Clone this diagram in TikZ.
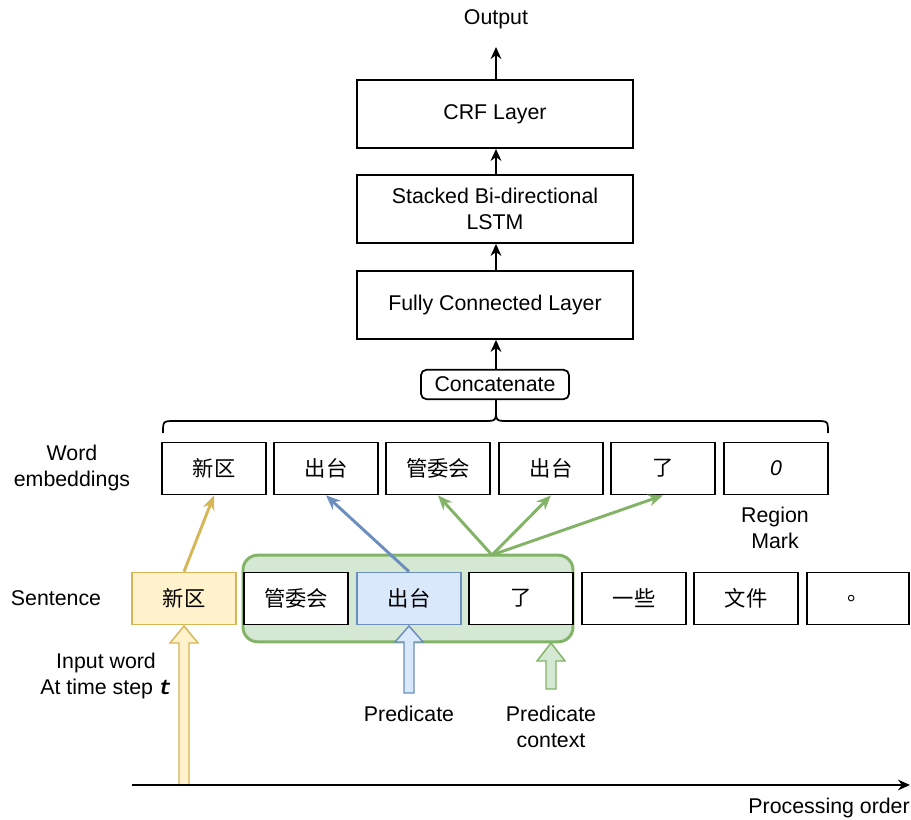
\documentclass[tikz,border=0pt]{standalone}
\usepackage{fontspec}
\setmainfont{Liberation Sans}
\newfontfamily\cjk{Noto Sans CJK SC}
\newfontfamily\monob{Liberation Mono}
\usetikzlibrary{arrows.meta}
\definecolor{ylwfill}{HTML}{FFF2CC}
\definecolor{ylwline}{HTML}{D6B656}
\definecolor{blufill}{HTML}{DAE8FC}
\definecolor{bluline}{HTML}{6C8EBF}
\definecolor{grnfill}{HTML}{D5E8D4}
\definecolor{grnline}{HTML}{82B366}
\begin{document}
\begin{tikzpicture}[x=0.75pt,y=-0.75pt,
  font=\fontsize{16}{19.5}\selectfont,
  wordbox/.style={draw=black, line width=1.3pt, fill=white, minimum width=78pt,
    minimum height=39pt, inner sep=0pt, font=\fontsize{16}{19.5}\selectfont\cjk},
  layerbox/.style={draw=black, line width=1.3pt, fill=white, minimum width=207pt,
    minimum height=51pt, inner sep=0pt, align=center},
  lbl/.style={align=center, inner sep=0pt},
  blk/.style={-{Stealth[length=9pt,width=8pt]}, line width=1.4pt},
  colarr/.style={-{Stealth[length=11pt,width=9pt]}, line width=2.2pt},
  blockarr/.style={line width=1.1pt, line join=miter}
]
\useasboundingbox (0,0) rectangle (911,820);

% ---- upper network layers ----
\node[lbl] (out) at (496,19) {Output};
\coordinate (outend) at (496,47);
\node[layerbox] (crf) at (495,114) {CRF Layer};
\node[layerbox] (lstm) at (495,209) {Stacked Bi-directional\\LSTM};
\node[layerbox] (fc) at (495,305) {Fully Connected Layer};
\node[draw=black, line width=1.3pt, rounded corners=4pt, minimum width=111pt,
  minimum height=22pt, inner sep=0pt] (cat) at (495,384.5) {Concatenate};

\draw[blk] (496,80) -- (outend);
\draw[blk] (lstm.north -| 496,0) -- (crf.south -| 496,0);
\draw[blk] (fc.north -| 496,0) -- (lstm.south -| 496,0);
\draw[blk] (cat.north -| 496,0) -- (fc.south -| 496,0);

% ---- brace gathering the word embeddings ----
\coordinate (tip) at (496,409);
\draw[line width=1.3pt] (163,433) .. controls (163,421) .. (175,421) -- (484,421)
  .. controls (496,421) .. (tip) .. controls (496,421) .. (508,421) -- (816,421)
  .. controls (828,421) .. (828,433);
\draw[line width=1.3pt] (tip) -- (cat.south -| 496,0);

% ---- word embeddings ----
\node[lbl] (welbl) at (72,468) {Word\\embeddings};
\node[wordbox] (e1) at (214,468.5) {新区};
\node[wordbox] (e2) at (326,468.5) {出台};
\node[wordbox] (e3) at (438,468.5) {管委会};
\node[wordbox] (e4) at (551,468.5) {出台};
\node[wordbox] (e5) at (663,468.5) {了};
\node[wordbox, font=\fontsize{16}{19.5}\selectfont\itshape] (e6) at (776,468.5) {0};
\node[lbl] (rm) at (775,528) {Region\\Mark};

% ---- sentence ----
\node[lbl] (sentlbl) at (56,598) {Sentence};
\node[draw=grnline, fill=grnfill, line width=2.2pt, rounded corners=11pt,
  minimum width=247.5pt, minimum height=65pt, inner sep=0pt] (ctx) at (408,598.5) {};
\node[wordbox, draw=ylwline, fill=ylwfill] (s1) at (184,598.5) {新区};
\node[wordbox] (s2) at (296,598.5) {管委会};
\node[wordbox, draw=bluline, fill=blufill] (s3) at (409,598.5) {出台};
\node[wordbox] (s4) at (521,598.5) {了};
\node[wordbox] (s5) at (634,598.5) {一些};
\node[wordbox] (s6) at (746,598.5) {文件};
\node[wordbox, minimum width=76.5pt] (s7) at (858,598.5) {。};
\coordinate (fan) at (492,555);

% ---- feature connectors ----
\draw[colarr, draw=ylwline] (s1.north) -- (e1.south);
\draw[colarr, draw=bluline] (s3.north) -- (e2.south);
\draw[colarr, draw=grnline] (fan) -- (e3.south);
\draw[colarr, draw=grnline] (fan) -- (e4.south);
\draw[colarr, draw=grnline] (fan) -- (e5.south);

% ---- hollow block arrows ----
\draw[blockarr, draw=ylwline, fill=ylwfill] (179,785) -- (179,643) -- (170,643)
  -- (184,626) -- (198,643) -- (189,643) -- (189,785) -- cycle;
\draw[blockarr, draw=bluline, fill=blufill] (404,693) -- (404,642) -- (395,642)
  -- (409,626) -- (423,642) -- (414,642) -- (414,693) -- cycle;
\draw[blockarr, draw=grnline, fill=grnfill] (546,689) -- (546,661) -- (537,661)
  -- (551,643) -- (565,661) -- (556,661) -- (556,689) -- cycle;

\node[lbl, anchor=east] (inlbl) at (172,676) {Input word\\At time step {\monob\bfseries\itshape t}};
\node[lbl] (predlbl) at (409,714) {Predicate};
\node[lbl] (ctxlbl) at (551,727) {Predicate\\context};

% ---- processing axis ----
\coordinate (axs) at (132,785);
\coordinate (axe) at (910,785);
\draw[blk] (axs) -- (axe);
\node[lbl, anchor=east] (axlbl) at (910,808) {Processing order};
\end{tikzpicture}
\end{document}
